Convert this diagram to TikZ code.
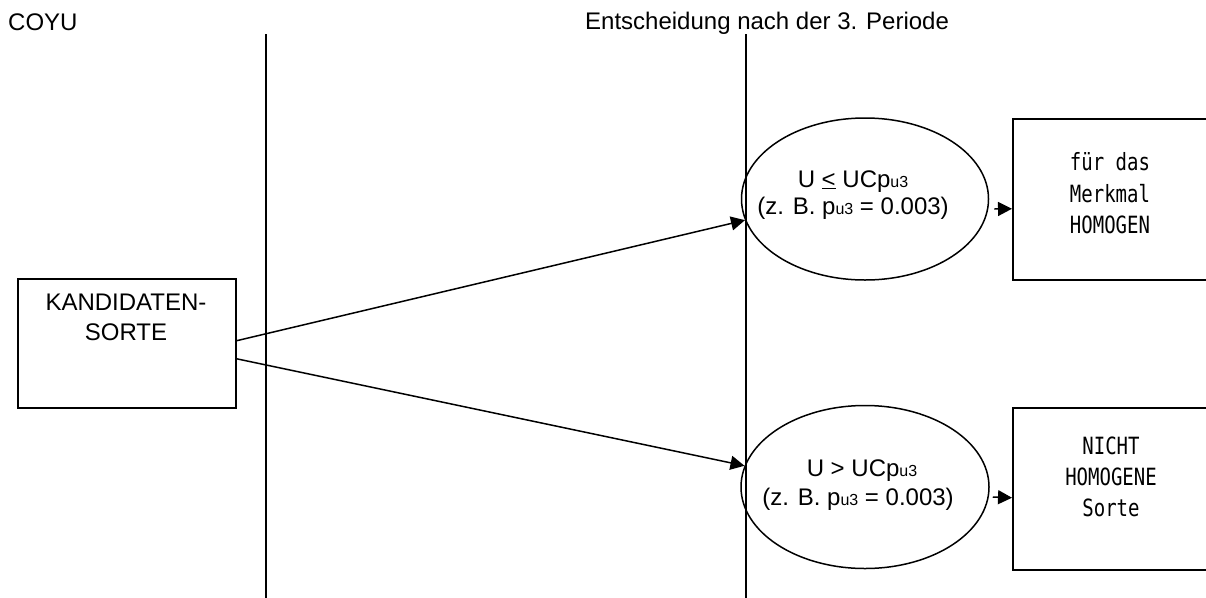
\documentclass[tikz,border=0pt]{standalone}
\usepackage{fontspec}
\setmainfont{Liberation Sans}
\setmonofont{DejaVu Sans Mono}
\usetikzlibrary{shapes.geometric,arrows.meta}

% narrow, tall monospaced lettering used inside the result boxes
\newcommand{\gothicline}[1]{{\ttfamily\fontsize{19}{19}\selectfont\scalebox{1}[1.25]{#1}}}
% small "u3" index written after p
\newcommand{\pusub}{{\fontsize{16}{16}\selectfont u3}}

\begin{document}
\begin{tikzpicture}[x=1pt,y=-1pt,
  every node/.style={inner sep=0pt, font=\fontsize{24}{28}\selectfont},
  frame/.style={draw, line width=1.5pt, rectangle},
  oval/.style={draw, line width=1.5pt, ellipse},
  phase/.style={line width=2pt},
  conn/.style={line width=1.5pt, -{Triangle[length=14pt,width=14pt]}},
  txt/.style={anchor=base}]

  \clip (0,0) rectangle (1206,597);

  % headings
  \node[anchor=base west] (coyu) at (8,30) {COYU};
  \node[anchor=base west] (title) at (585,29) {Entscheidung nach der 3. Periode};

  % period separators
  \coordinate (sepAtop) at (266,34);
  \coordinate (sepAbot) at (266,600);
  \coordinate (sepBtop) at (746,34);
  \coordinate (sepBbot) at (746,600);
  \draw[phase] (sepAtop) -- (sepAbot);
  \draw[phase] (sepBtop) -- (sepBbot);

  % candidate variety
  \node[frame, minimum width=218pt, minimum height=129pt, anchor=north west] (kand) at (17,278) {};
  \node[txt] (kandA) at (126,310) {KANDIDATEN-};
  \node[txt] (kandB) at (126,340) {SORTE};

  % decisions
  \node[oval, minimum width=247pt, minimum height=162pt] (ehom) at (865,199) {};
  \node[txt] (ehomA) at (853,187) {U \underline{<} UCp\pusub};
  \node[txt] (ehomB) at (853,214) {(z. B. p\pusub{} = 0.003)};

  \node[oval, minimum width=248pt, minimum height=163pt] (enot) at (865,487) {};
  \node[txt] (enotA) at (862,476) {U > UCp\pusub};
  \node[txt] (enotB) at (858,505) {(z. B. p\pusub{} = 0.003)};

  % results
  \node[frame, minimum width=220pt, minimum height=161pt, anchor=north west] (rhom) at (1012,118) {};
  \node[txt] (rhomA) at (1110,170) {\gothicline{für das}};
  \node[txt] (rhomB) at (1110,202) {\gothicline{Merkmal}};
  \node[txt] (rhomC) at (1110,233) {\gothicline{HOMOGEN}};

  \node[frame, minimum width=220pt, minimum height=162pt, anchor=north west] (rnot) at (1012,407) {};
  \node[txt] (rnotA) at (1111,454) {\gothicline{NICHT}};
  \node[txt] (rnotB) at (1111,485) {\gothicline{HOMOGENE}};
  \node[txt] (rnotC) at (1111,516) {\gothicline{Sorte}};

  % connectors
  \draw[conn] ([yshift=2.5pt]kand.east) -- (ehom.190);
  \draw[conn] ([yshift=-15.5pt]kand.east) -- (enot.170);
  \draw[conn] ([shift={(5pt,-10pt)}]ehom.east) -- ([yshift=-9.5pt]rhom.west);
  \draw[conn] ([shift={(3pt,-10pt)}]enot.east) -- ([yshift=-9pt]rnot.west);
\end{tikzpicture}
\end{document}
